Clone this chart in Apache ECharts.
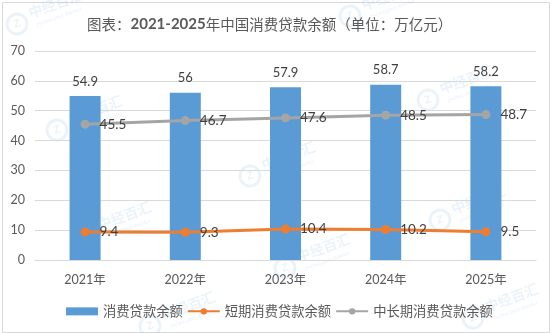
<!DOCTYPE html>
<html>
<head>
<meta charset="utf-8">
<script src="https://cdn.jsdelivr.net/npm/echarts@6/dist/echarts.min.js"></script>
<style>
  html, body { margin: 0; padding: 0; background: #fff; }
  #chart { width: 554px; height: 333px; }
</style>
</head>
<body>
<div id="chart"></div>
<script>
// Consumer loan balances in China, 2021-2025 (unit: trillion yuan)
const years = ['2021年', '2022年', '2023年', '2024年', '2025年'];
const totalLoans = [54.9, 56, 57.9, 58.7, 58.2];
const shortTermLoans = [9.4, 9.3, 10.4, 10.2, 9.5];
const longTermLoans = [45.5, 46.7, 47.6, 48.5, 48.7];

const seriesNames = ['消费贷款余额', '短期消费贷款余额', '中长期消费贷款余额'];
const numFont = 'Lato, "Noto Sans CJK SC", sans-serif';
const cjkFont = '"Noto Sans CJK SC", sans-serif';

// Faint brand stamps scattered over the canvas
const stampSpots = [[17, 24], [350, 16], [57, 130], [250, 176], [86, 236], [440, 220], [428, 100], [285, 268], [473, 318], [150, 326]];
function stamp(x, y) {
  return {
    type: 'group',
    x: x,
    y: y,
    rotation: Math.PI / 9,
    silent: true,
    z: 100,
    children: [
      { type: 'circle', shape: { cx: 0, cy: 0, r: 10 }, style: { fill: 'none', stroke: '#5B9BD5', lineWidth: 3, opacity: 0.12 } },
      { type: 'text', style: { x: 0, y: 0, text: 'Z', fill: '#5B9BD5', font: 'bold 11px sans-serif', align: 'center', verticalAlign: 'middle', opacity: 0.12 } },
      { type: 'text', style: { x: 15, y: -6, text: '中经百汇', fill: '#5B9BD5', font: 'bold 14px "Noto Sans CJK SC"', verticalAlign: 'middle', opacity: 0.12 } },
      { type: 'text', style: { x: 18, y: 8, text: 'ZHONGJING BAIHUI', fill: '#5B9BD5', font: '5px sans-serif', verticalAlign: 'middle', opacity: 0.15 } }
    ]
  };
}

const chart = echarts.init(document.getElementById('chart'), null, { renderer: 'canvas' });

chart.setOption({
  animation: false,
  backgroundColor: '#fff',
  title: {
    text: '{a|图表：}{b|2021-2025}{a|年中国消费贷款余额（单位：万亿元）}',
    left: 82,
    top: 12,
    textStyle: {
      rich: {
        a: { fontFamily: cjkFont, fontSize: 14.5, fontWeight: 'normal', color: '#595959' },
        b: { fontFamily: numFont, fontSize: 15, fontWeight: 'bold', color: '#595959' }
      }
    }
  },
  grid: { left: 35, right: 18, top: 51, bottom: 73, containLabel: false },
  legend: {
    bottom: 10,
    left: 61,
    itemGap: 4,
    itemWidth: 32,
    itemHeight: 8,
    textStyle: { fontFamily: cjkFont, fontSize: 13.3, color: '#595959' },
    data: [
      { name: seriesNames[0], icon: 'rect' },
      { name: seriesNames[1] },
      { name: seriesNames[2] }
    ]
  },
  xAxis: {
    type: 'category',
    data: years,
    axisLine: { lineStyle: { color: '#D9D9D9' } },
    axisTick: { show: false },
    axisLabel: { fontFamily: numFont, fontSize: 12.5, color: '#595959', margin: 14 }
  },
  yAxis: {
    type: 'value',
    min: 0,
    max: 70,
    interval: 10,
    axisLine: { show: false },
    axisTick: { show: false },
    splitLine: { lineStyle: { color: '#D9D9D9' } },
    axisLabel: { fontFamily: numFont, fontSize: 12.5, color: '#595959', margin: 10 }
  },
  series: [
    {
      name: seriesNames[0],
      type: 'bar',
      data: totalLoans,
      barWidth: 31,
      itemStyle: { color: '#5B9BD5' },
      label: {
        show: true,
        position: 'top',
        distance: 8,
        fontFamily: numFont,
        fontSize: 13,
        color: '#404040'
      }
    },
    {
      name: seriesNames[1],
      type: 'line',
      data: shortTermLoans,
      symbol: 'circle',
      symbolSize: 9,
      lineStyle: { width: 3, color: '#ED7D31' },
      itemStyle: { color: '#ED7D31' },
      label: {
        show: true,
        position: 'right',
        distance: 10,
        fontFamily: numFont,
        fontSize: 13.5,
        color: '#404040'
      }
    },
    {
      name: seriesNames[2],
      type: 'line',
      data: longTermLoans,
      symbol: 'circle',
      symbolSize: 9,
      lineStyle: { width: 3, color: '#A5A5A5' },
      itemStyle: { color: '#A5A5A5' },
      label: {
        show: true,
        position: 'right',
        distance: 10,
        fontFamily: numFont,
        fontSize: 13.5,
        color: '#404040'
      }
    }
  ],
  graphic: [
    {
      type: 'rect',
      left: 0,
      top: 0,
      shape: { width: 547, height: 330 },
      style: { fill: 'none', stroke: '#D9D9D9', lineWidth: 1 },
      silent: true
    }
  ].concat(stampSpots.map(p => stamp(p[0], p[1])))
});
</script>
</body>
</html>
